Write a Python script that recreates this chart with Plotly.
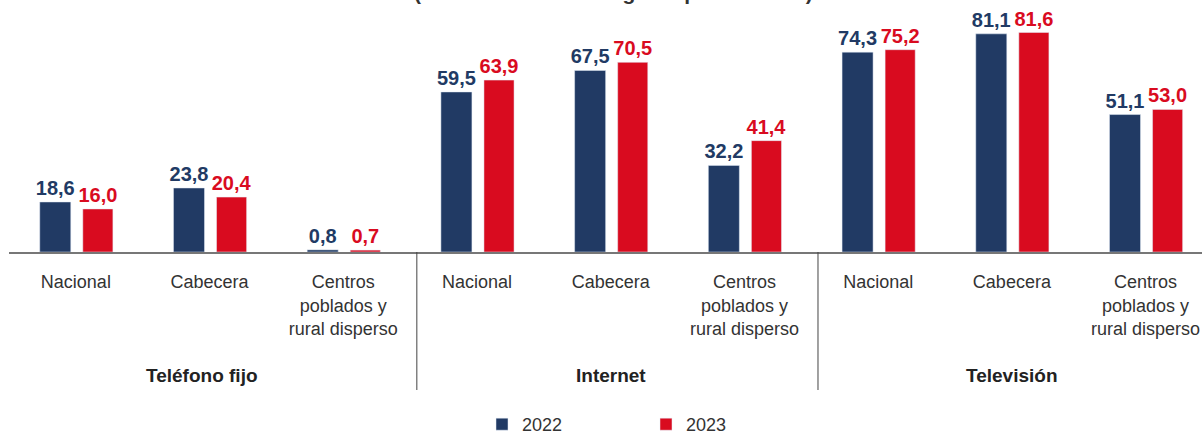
import plotly.graph_objects as go

categories = ["Nacional", "Cabecera", "Centros<br>poblados y<br>rural disperso",
              "Nacional", "Cabecera", "Centros<br>poblados y<br>rural disperso",
              "Nacional", "Cabecera", "Centros<br>poblados y<br>rural disperso"]
groups = ["Teléfono fijo", "Internet", "Televisión"]
years = ["2022", "2023"]
values_2022 = [18.6, 23.8, 0.8, 59.5, 67.5, 32.2, 74.3, 81.1, 51.1]
values_2023 = [16.0, 20.4, 0.7, 63.9, 70.5, 41.4, 75.2, 81.6, 53.0]
title_text = "(Total nacional de hogares por dominio)"

NAVY = "#213A64"
RED = "#D90B1F"
FONT = "Liberation Sans"

xpos = list(range(len(categories)))

fig = go.Figure()
fig.add_trace(go.Bar(
    x=xpos, y=values_2022, name=years[0], marker_color=NAVY,
    width=0.232, offset=-0.27,
    texttemplate="%{y:.1f}", textposition="outside", cliponaxis=False,
    constraintext="none",
    textfont=dict(family=FONT, size=20, color=NAVY, weight="bold"),
))
fig.add_trace(go.Bar(
    x=xpos, y=values_2023, name=years[1], marker_color=RED,
    width=0.225, offset=0.052,
    texttemplate="%{y:.1f}", textposition="outside", cliponaxis=False,
    constraintext="none",
    textfont=dict(family=FONT, size=20, color=RED, weight="bold"),
))

t, b, l, r = 20, 179, 9, 0
H, W = 431, 1202
ph = H - t - b
pw = W - l - r

# group labels
for i, g in enumerate(groups):
    fig.add_annotation(
        x=3 * i + 1, xref="x", xshift=-8 if i == 0 else 0,
        y=(252 - 376) / ph, yref="paper", yanchor="middle",
        text="<b>%s</b>" % g, showarrow=False,
        font=dict(family=FONT, size=19, color="#222222"),
    )

# separators between groups
for k in range(1, len(groups)):
    xs = 3 * k - 0.5 + 0.05
    fig.add_shape(type="line", xref="x", yref="paper",
                  x0=xs, x1=xs, y0=0, y1=(252 - 390) / ph,
                  line=dict(color="#444444", width=1))

fig.add_annotation(
    x=(613 - l) / pw, xref="paper", y=1 + (t + 8) / ph, yref="paper",
    yanchor="middle", text="<b>%s</b>" % title_text, showarrow=False,
    font=dict(family=FONT, size=21, color="#333333"),
)

fig.update_layout(
    width=W, height=H,
    margin=dict(t=t, b=b, l=l, r=r, pad=0, autoexpand=False),
    plot_bgcolor="white", paper_bgcolor="white",
    separators=",.",
    showlegend=True,
    legend=dict(orientation="h", x=(646 - l) / pw, xanchor="center",
                y=(252 - 406) / ph, yanchor="top",
                font=dict(family=FONT, size=18, color="#333333"),
                entrywidth=119, traceorder="normal"),
    font=dict(family=FONT, size=18, color="#333333"),
)
fig.update_xaxes(
    range=[-0.5, (W - 76) / 133.7], tickvals=xpos, ticktext=categories,
    showline=True, linecolor="#777777", linewidth=1.5,
    ticks="outside", ticklen=0, ticklabelstandoff=13,
    showgrid=False, zeroline=False, automargin=False,
    tickfont=dict(family=FONT, size=18, color="#333333"),
)
fig.update_yaxes(range=[0, ph / 2.69], visible=False, showgrid=False,
                 zeroline=False, automargin=False)

fig.write_html(
    "out.html",
    config={"displayModeBar": False},
    post_script="document.body.style.margin='0';document.body.style.overflow='hidden';",
)
